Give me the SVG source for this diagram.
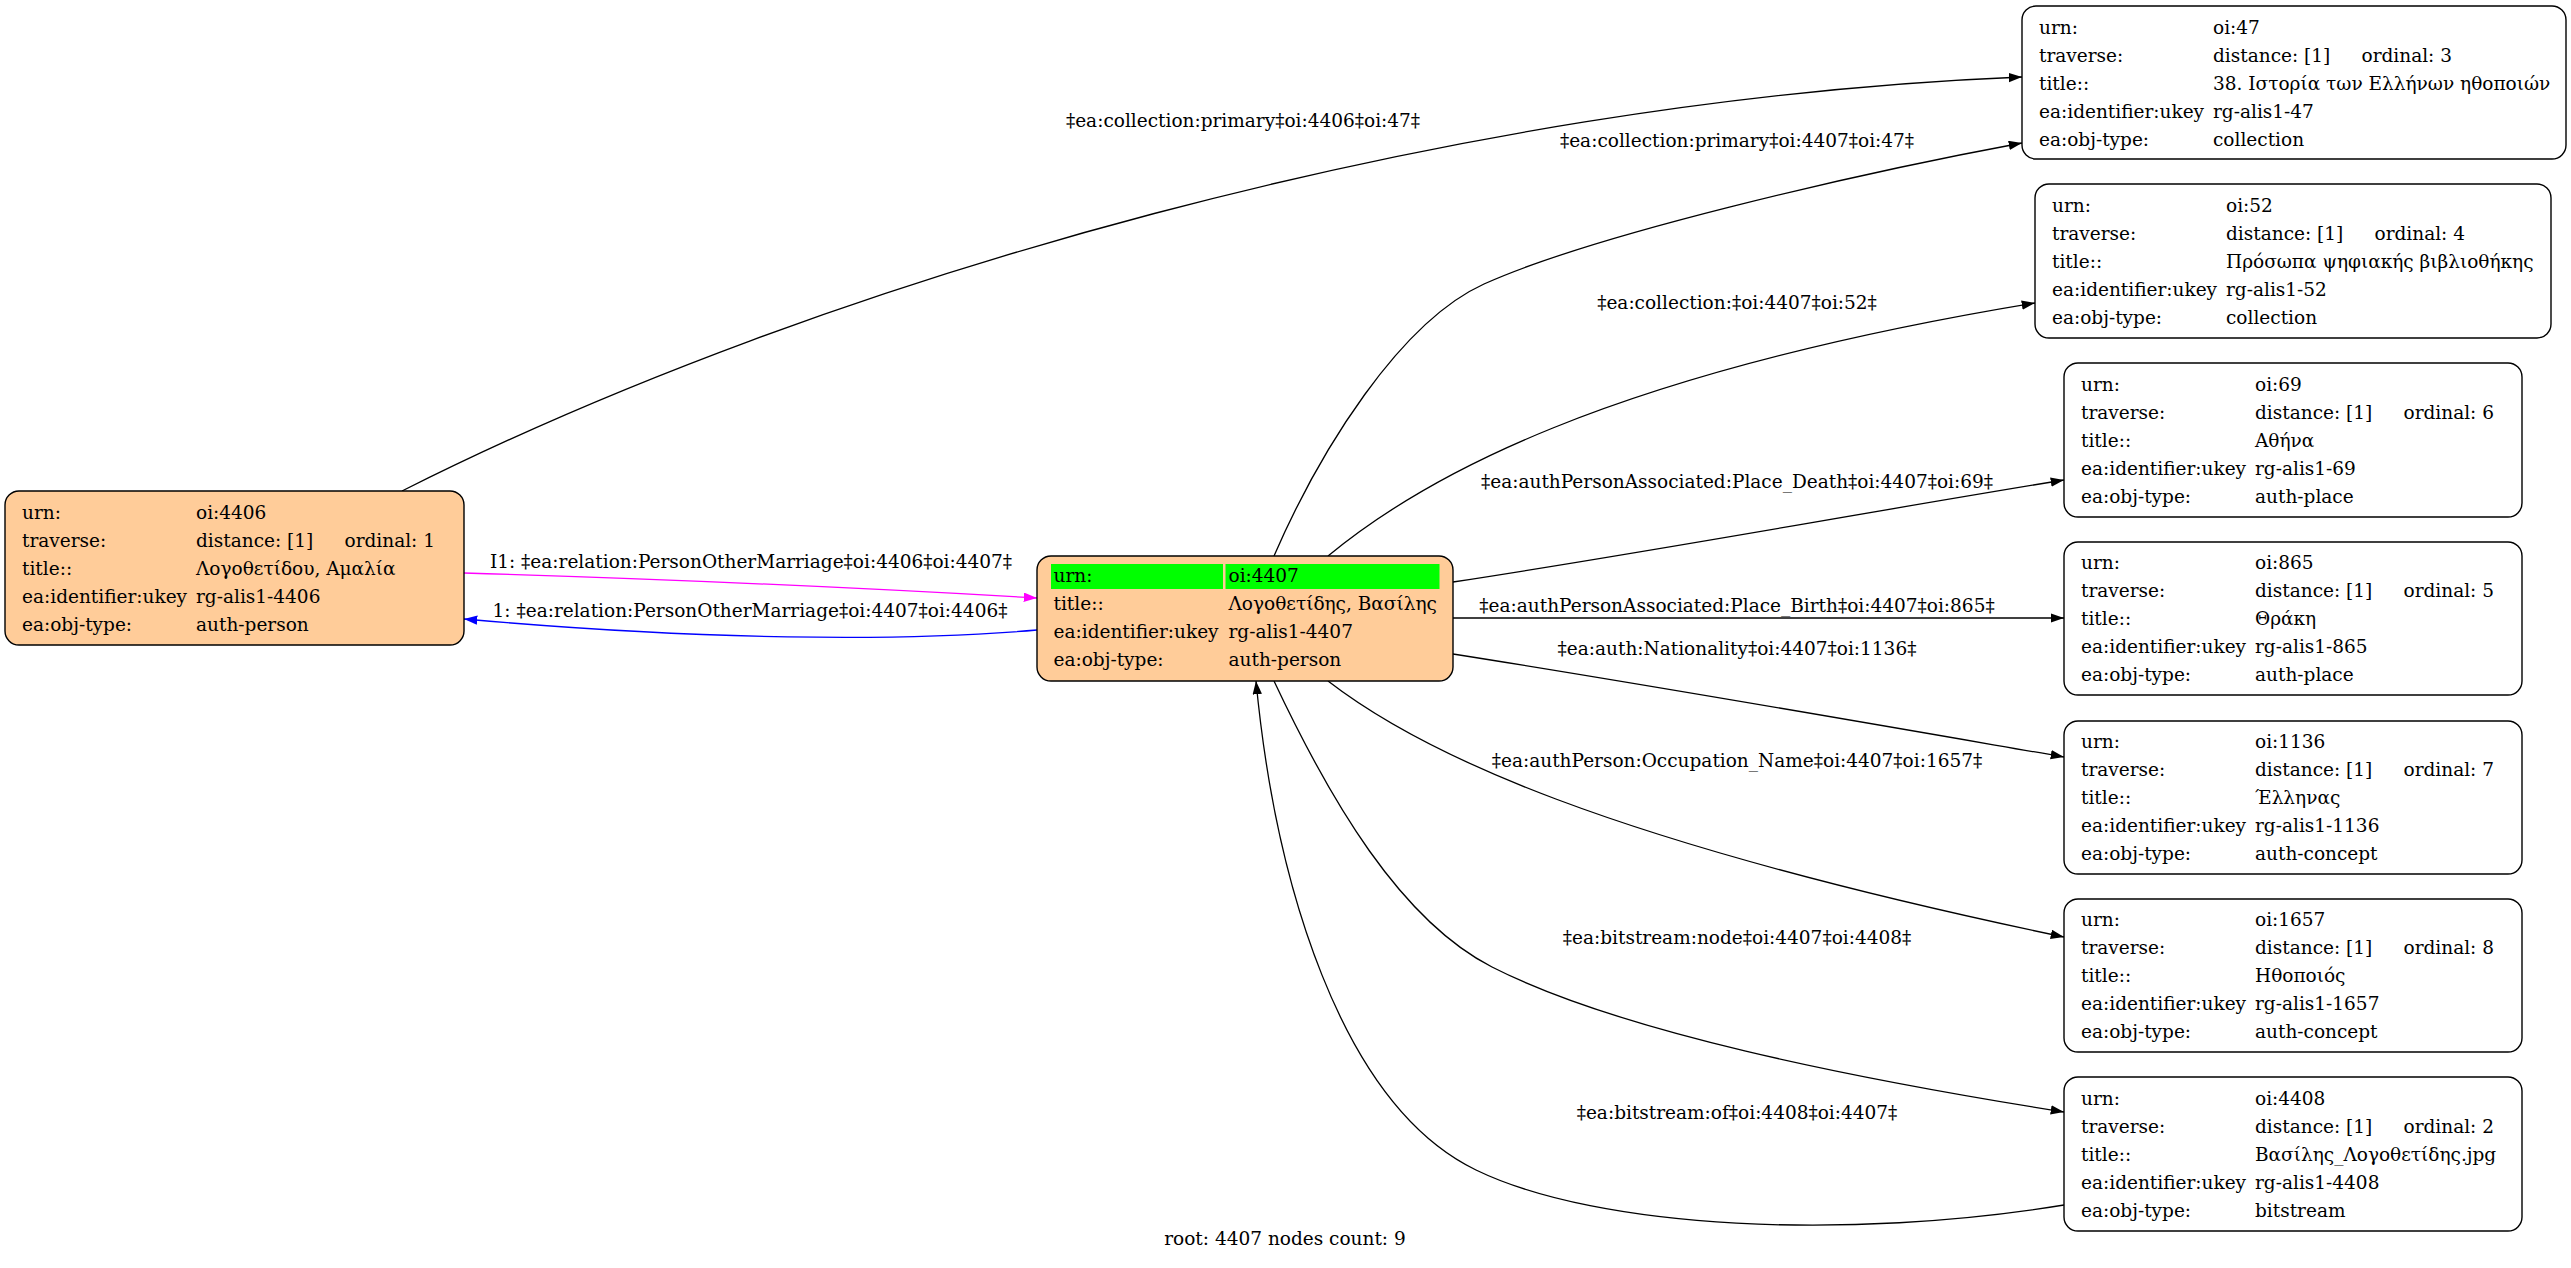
<svg xmlns="http://www.w3.org/2000/svg" width="2571" height="1268" viewBox="0 0 2571 1268">
<style>
text{font-family:"DejaVu Serif","Liberation Serif",serif;font-size:18.5px;fill:#000}
.box{stroke:#000;stroke-width:1.4}
.hl{fill:#ffcc99}
.pl{fill:#fff}
.e{fill:none;stroke:#000;stroke-width:1.3}
.lb{text-anchor:middle}
</style>
<defs>
<marker id="ak" markerUnits="userSpaceOnUse" markerWidth="14" markerHeight="10" refX="13.3" refY="4.7" orient="auto"><path d="M0,0 L13.3,4.7 L0,9.4 z" fill="#000"/></marker>
<marker id="am" markerUnits="userSpaceOnUse" markerWidth="14" markerHeight="10" refX="13.3" refY="4.7" orient="auto"><path d="M0,0 L13.3,4.7 L0,9.4 z" fill="#ff00ff"/></marker>
<marker id="ab" markerUnits="userSpaceOnUse" markerWidth="14" markerHeight="10" refX="13.3" refY="4.7" orient="auto"><path d="M0,0 L13.3,4.7 L0,9.4 z" fill="#0000ff"/></marker>
</defs>
<rect width="2571" height="1268" fill="#fff"/>
<g id="connectors">
<path class="e" marker-end="url(#ak)" d="M402 491 C820 280 1450 100 2022 77"/>
<path class="e" marker-end="url(#ak)" d="M1274 556 C1320 450 1400 322 1484 284 C1593 235 1850 175 2022 143"/>
<path class="e" marker-end="url(#ak)" d="M1328 556 C1420 480 1600 375 2035 303"/>
<path class="e" marker-end="url(#ak)" d="M1453 582 C1650 552 1850 515 2064 480"/>
<path class="e" marker-end="url(#ak)" d="M1453 618 L2064 618"/>
<path class="e" marker-end="url(#ak)" d="M1453 654 C1650 685 1850 720 2064 757"/>
<path class="e" marker-end="url(#ak)" d="M1328 681 C1420 752 1600 840 2064 937"/>
<path class="e" marker-end="url(#ak)" d="M1274 681 C1330 800 1400 920 1492 967 C1620 1032 1850 1078 2064 1112"/>
<path class="e" marker-end="url(#ak)" d="M2064 1205 C1850 1240 1600 1230 1476 1170 C1340 1104 1275 880 1256 681"/>
<path class="e" style="stroke:#ff00ff" marker-end="url(#am)" d="M464 573 C700 580 900 590 1037 598"/>
<path class="e" style="stroke:#0000ff" marker-end="url(#ab)" d="M1037 630 C900 642 700 640 464 619"/>
<text class="lb" x="1243" y="127">‡ea:collection:primary‡oi:4406‡oi:47‡</text>
<text class="lb" x="1737" y="147">‡ea:collection:primary‡oi:4407‡oi:47‡</text>
<text class="lb" x="1737" y="309">‡ea:collection:‡oi:4407‡oi:52‡</text>
<text class="lb" x="1737" y="488">‡ea:authPersonAssociated:Place_Death‡oi:4407‡oi:69‡</text>
<text class="lb" x="1737" y="612">‡ea:authPersonAssociated:Place_Birth‡oi:4407‡oi:865‡</text>
<text class="lb" x="1737" y="655">‡ea:auth:Nationality‡oi:4407‡oi:1136‡</text>
<text class="lb" x="1737" y="767">‡ea:authPerson:Occupation_Name‡oi:4407‡oi:1657‡</text>
<text class="lb" x="1737" y="944">‡ea:bitstream:node‡oi:4407‡oi:4408‡</text>
<text class="lb" x="1737" y="1119">‡ea:bitstream:of‡oi:4408‡oi:4407‡</text>
<text class="lb" x="751" y="568">I1: ‡ea:relation:PersonOtherMarriage‡oi:4406‡oi:4407‡</text>
<text class="lb" x="750" y="617">1: ‡ea:relation:PersonOtherMarriage‡oi:4407‡oi:4406‡</text>
</g>
<g id="n4406">
<rect class="box hl" x="5" y="491" width="459" height="154" rx="14"/>
<text x="22" y="518.5">urn:</text><text x="196" y="518.5">oi:4406</text>
<text x="22" y="546.5">traverse:</text><text x="196" y="546.5">distance: [1]</text><text x="344.5" y="546.5">ordinal: 1</text>
<text x="22" y="574.5">title::</text><text x="196" y="574.5">Λογοθετίδου, Αμαλία</text>
<text x="22" y="602.5">ea:identifier:ukey</text><text x="196" y="602.5">rg-alis1-4406</text>
<text x="22" y="630.5">ea:obj-type:</text><text x="196" y="630.5">auth-person</text>
</g>
<g id="n4407">
<rect class="box hl" x="1037" y="556" width="416" height="125" rx="14"/>
<rect x="1051" y="564" width="172" height="25" fill="#00ff00"/>
<rect x="1225.5" y="564" width="214" height="25" fill="#00ff00"/>
<text x="1053.5" y="582">urn:</text><text x="1228.5" y="582">oi:4407</text>
<text x="1053.5" y="610">title::</text><text x="1228.5" y="610">Λογοθετίδης, Βασίλης</text>
<text x="1053.5" y="638">ea:identifier:ukey</text><text x="1228.5" y="638">rg-alis1-4407</text>
<text x="1053.5" y="666">ea:obj-type:</text><text x="1228.5" y="666">auth-person</text>
</g>
<g id="n47">
<rect class="box pl" x="2022" y="6" width="544" height="153" rx="14"/>
<text x="2039" y="33.5">urn:</text><text x="2213" y="33.5">oi:47</text>
<text x="2039" y="61.5">traverse:</text><text x="2213" y="61.5">distance: [1]</text><text x="2361.5" y="61.5">ordinal: 3</text>
<text x="2039" y="89.5">title::</text><text x="2213" y="89.5">38. Ιστορία των Ελλήνων ηθοποιών</text>
<text x="2039" y="117.5">ea:identifier:ukey</text><text x="2213" y="117.5">rg-alis1-47</text>
<text x="2039" y="145.5">ea:obj-type:</text><text x="2213" y="145.5">collection</text>
</g>
<g id="n52">
<rect class="box pl" x="2035" y="184" width="516" height="154" rx="14"/>
<text x="2052" y="211.5">urn:</text><text x="2226" y="211.5">oi:52</text>
<text x="2052" y="239.5">traverse:</text><text x="2226" y="239.5">distance: [1]</text><text x="2374.5" y="239.5">ordinal: 4</text>
<text x="2052" y="267.5">title::</text><text x="2226" y="267.5">Πρόσωπα ψηφιακής βιβλιοθήκης</text>
<text x="2052" y="295.5">ea:identifier:ukey</text><text x="2226" y="295.5">rg-alis1-52</text>
<text x="2052" y="323.5">ea:obj-type:</text><text x="2226" y="323.5">collection</text>
</g>
<g id="n69">
<rect class="box pl" x="2064" y="363" width="458" height="154" rx="14"/>
<text x="2081" y="390.5">urn:</text><text x="2255" y="390.5">oi:69</text>
<text x="2081" y="418.5">traverse:</text><text x="2255" y="418.5">distance: [1]</text><text x="2403.5" y="418.5">ordinal: 6</text>
<text x="2081" y="446.5">title::</text><text x="2255" y="446.5">Αθήνα</text>
<text x="2081" y="474.5">ea:identifier:ukey</text><text x="2255" y="474.5">rg-alis1-69</text>
<text x="2081" y="502.5">ea:obj-type:</text><text x="2255" y="502.5">auth-place</text>
</g>
<g id="n865">
<rect class="box pl" x="2064" y="542" width="458" height="153" rx="14"/>
<text x="2081" y="569">urn:</text><text x="2255" y="569">oi:865</text>
<text x="2081" y="597">traverse:</text><text x="2255" y="597">distance: [1]</text><text x="2403.5" y="597">ordinal: 5</text>
<text x="2081" y="625">title::</text><text x="2255" y="625">Θράκη</text>
<text x="2081" y="653">ea:identifier:ukey</text><text x="2255" y="653">rg-alis1-865</text>
<text x="2081" y="681">ea:obj-type:</text><text x="2255" y="681">auth-place</text>
</g>
<g id="n1136">
<rect class="box pl" x="2064" y="721" width="458" height="153" rx="14"/>
<text x="2081" y="748">urn:</text><text x="2255" y="748">oi:1136</text>
<text x="2081" y="776">traverse:</text><text x="2255" y="776">distance: [1]</text><text x="2403.5" y="776">ordinal: 7</text>
<text x="2081" y="804">title::</text><text x="2255" y="804">Έλληνας</text>
<text x="2081" y="832">ea:identifier:ukey</text><text x="2255" y="832">rg-alis1-1136</text>
<text x="2081" y="860">ea:obj-type:</text><text x="2255" y="860">auth-concept</text>
</g>
<g id="n1657">
<rect class="box pl" x="2064" y="899" width="458" height="153" rx="14"/>
<text x="2081" y="926">urn:</text><text x="2255" y="926">oi:1657</text>
<text x="2081" y="954">traverse:</text><text x="2255" y="954">distance: [1]</text><text x="2403.5" y="954">ordinal: 8</text>
<text x="2081" y="982">title::</text><text x="2255" y="982">Ηθοποιός</text>
<text x="2081" y="1010">ea:identifier:ukey</text><text x="2255" y="1010">rg-alis1-1657</text>
<text x="2081" y="1038">ea:obj-type:</text><text x="2255" y="1038">auth-concept</text>
</g>
<g id="n4408">
<rect class="box pl" x="2064" y="1077" width="458" height="154" rx="14"/>
<text x="2081" y="1104.5">urn:</text><text x="2255" y="1104.5">oi:4408</text>
<text x="2081" y="1132.5">traverse:</text><text x="2255" y="1132.5">distance: [1]</text><text x="2403.5" y="1132.5">ordinal: 2</text>
<text x="2081" y="1160.5">title::</text><text x="2255" y="1160.5">Βασίλης_Λογοθετίδης.jpg</text>
<text x="2081" y="1188.5">ea:identifier:ukey</text><text x="2255" y="1188.5">rg-alis1-4408</text>
<text x="2081" y="1216.5">ea:obj-type:</text><text x="2255" y="1216.5">bitstream</text>
</g>
<text class="lb" x="1285" y="1245">root: 4407 nodes count: 9</text>
</svg>
